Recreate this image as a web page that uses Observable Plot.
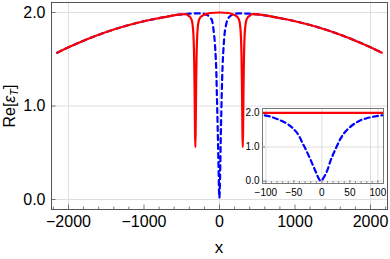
<!DOCTYPE html>
<html><head><meta charset="utf-8">
<script src="https://cdn.jsdelivr.net/npm/d3@7"></script>
<script src="https://cdn.jsdelivr.net/npm/@observablehq/plot@0.6"></script>
<style>
body{margin:0;background:#fff;}
#wrap{position:relative;width:390px;height:259px;font-family:"Liberation Sans",Arial,sans-serif;}
#main{position:absolute;left:0;top:0;}
#inset{position:absolute;left:232px;top:104px;}
</style></head><body><div id="wrap"><div id="main"></div><div id="inset"></div></div>
<script>
// ---- data ----
const redX = [-2150,-2000,-1800,-1600,-1400,-1200,-1000,-800,-600,-500,-450,-410,-380,-360,-350,-342,-336,-331,-327,-324,-320,-316,-313,-309,-304,-298,-290,-280,-260,-230,-190,-120,0,120,178,218,248,268,278,286,292,297,301,304,308,312,315,319,324,330,338,348,368,398,438,500,600,800,1000,1200,1400,1600,1800,2000,2150];
const redY = [1.57,1.628,1.699,1.762,1.818,1.866,1.907,1.940,1.970,1.980,1.982,1.965,1.94,1.89,1.82,1.70,1.52,1.25,0.95,0.72,0.56,0.72,0.95,1.25,1.52,1.70,1.82,1.89,1.94,1.965,1.98,1.995,2.0,1.995,1.98,1.965,1.94,1.89,1.82,1.70,1.52,1.25,0.95,0.72,0.56,0.72,0.95,1.25,1.52,1.70,1.82,1.89,1.94,1.965,1.982,1.980,1.970,1.940,1.907,1.866,1.818,1.762,1.699,1.628,1.57];
const blueX = [-2150,-2000,-1800,-1600,-1400,-1200,-1000,-800,-600,-500,-450,-400,-350,-300,-250,-200,-160,-130,-110,-100,-90,-80,-70,-60,-50,-45,-40,-35,-30,-25,-20,-15,-10,-6,-3,0,3,7,10,15,20,25,30,35,40,50,60,70,80,90,100,110,130,160,200,250,300,350,400,450,500,600,800,1000,1200,1400,1600,1800,2000,2150];
const blueY = [1.57,1.628,1.699,1.762,1.818,1.866,1.907,1.940,1.970,1.980,1.984,1.987,1.989,1.990,1.990,1.986,1.972,1.952,1.932,1.92,1.88,1.82,1.75,1.66,1.52,1.43,1.30,1.13,0.97,0.80,0.62,0.43,0.24,0.09,0.02,0.03,0.10,0.22,0.33,0.58,0.78,0.96,1.14,1.29,1.41,1.58,1.70,1.79,1.84,1.88,1.91,1.93,1.952,1.972,1.986,1.990,1.990,1.989,1.987,1.984,1.980,1.970,1.940,1.907,1.866,1.818,1.762,1.699,1.628,1.57];

const mainXTicks = [-2000,-1000,0,1000,2000];
const mainXMinor = [-2200,-1800,-1600,-1400,-1200,-800,-600,-400,-200,200,400,600,800,1200,1400,1600,1800,2200];
const mainYTicks = [0,1,2];
const mainXGrid = [-2000,0,2000];
const mainYGrid = [0,1,2];
const insetXTicks = [-100,-50,0,50,100];
const insetXMinor = [-90,-80,-70,-60,-40,-30,-20,-10,10,20,30,40,60,70,80,90,110];
const insetYTicks = [0,1,2];
const insetXGrid = [-100,0,100];
const insetYGrid = [0,1,2];

const red = redX.map((x,i)=>({x, y:redY[i]}));
const blue = blueX.map((x,i)=>({x, y:blueY[i]}));

const FONT = '"Liberation Sans", Arial, sans-serif';
const RED = "#ff0000", BLUE = "#0000ff", FRAME = "#555", GRID = "#dedede";

// ---- main plot ----
const W=390,H=259,mL=51,mR=3,mT=2,mB=50;
const pw=W-mL-mR, ph=H-mT-mB;
const main = Plot.plot({
  width:W, height:H, marginLeft:mL, marginRight:mR, marginTop:mT, marginBottom:mB,
  x:{domain:[-2225,2225]}, y:{domain:[-0.107,2.107]},
  style:{fontFamily:FONT, color:"#000", background:"transparent"},
  marks:[
    Plot.ruleX(mainXGrid,{x:d=>d, stroke:GRID, strokeWidth:1}),
    Plot.ruleY(mainYGrid,{y:d=>d, stroke:GRID, strokeWidth:1}),
    Plot.tickX(mainXMinor,{x:d=>d, insetTop:ph-2.5, stroke:FRAME, strokeWidth:0.8}),
    Plot.tickX(mainXTicks,{x:d=>d, insetTop:ph-4.5, stroke:FRAME, strokeWidth:0.8}),
    Plot.tickY(mainYTicks,{y:d=>d, insetRight:pw-4.5, stroke:FRAME, strokeWidth:0.8}),
    Plot.axisX(mainXTicks,{tickSize:0, tickPadding:6, tickFormat:d3.format("d"), fontSize:16, label:null}),
    Plot.axisY(mainYTicks,{tickSize:0, tickPadding:6, tickFormat:d3.format(".1f"), fontSize:16, label:null}),
    Plot.line(blue,{x:"x", y:"y", stroke:BLUE, strokeWidth:2.2, strokeDasharray:"5,4", curve:"monotone-x"}),
    Plot.line(red,{x:"x", y:"y", stroke:RED, strokeWidth:2.2, curve:"monotone-x"}),
    Plot.frame({stroke:FRAME, strokeWidth:1})
  ]
});
document.getElementById("main").appendChild(main);
const ms = d3.select(main);
const yl = ms.append("text")
  .attr("transform","translate(15,106) rotate(-90)")
  .attr("text-anchor","middle").attr("font-size",16).attr("font-family",FONT).attr("fill","#000");
yl.append("tspan").text("Re[");
yl.append("tspan").attr("font-style","italic").text("ε");
yl.append("tspan").attr("font-style","italic").attr("font-size",11).attr("dy",3).text("T");
yl.append("tspan").attr("dy",-3).text("]");
ms.append("text").attr("x",219).attr("y",253).attr("text-anchor","middle")
  .attr("font-size",17).attr("font-family",FONT).attr("fill","#000").text("x");

// ---- inset ----
const iW=155,iH=95,iL=30,iR=4,iT=4,iB=16;
const ipw=iW-iL-iR, iph=iH-iT-iB;
const inset = Plot.plot({
  width:iW, height:iH, marginLeft:iL, marginRight:iR, marginTop:iT, marginBottom:iB,
  x:{domain:[-106,110]}, y:{domain:[-0.067,2.126]},
  style:{fontFamily:FONT, color:"#000", background:"transparent"},
  marks:[
    Plot.ruleX(insetXGrid,{x:d=>d, stroke:GRID, strokeWidth:1}),
    Plot.ruleY(insetYGrid,{y:d=>d, stroke:GRID, strokeWidth:1}),
    Plot.tickX(insetXMinor,{x:d=>d, insetTop:iph-1.8, stroke:FRAME, strokeWidth:0.7}),
    Plot.tickX(insetXTicks,{x:d=>d, insetTop:iph-3, stroke:FRAME, strokeWidth:0.7}),
    Plot.tickY(insetYTicks,{y:d=>d, insetRight:ipw-3, stroke:FRAME, strokeWidth:0.7}),
    Plot.axisX(insetXTicks,{tickSize:0, tickPadding:5, tickFormat:d3.format("d"), fontSize:10, label:null}),
    Plot.axisY(insetYTicks,{tickSize:0, tickPadding:3, tickFormat:d3.format(".1f"), fontSize:10, label:null}),
    Plot.line(blue,{x:"x", y:"y", stroke:BLUE, strokeWidth:2.2, strokeDasharray:"5,3.5", curve:"monotone-x", clip:true}),
    Plot.line(red,{x:"x", y:"y", stroke:RED, strokeWidth:2.2, curve:"monotone-x", clip:true}),
    Plot.frame({stroke:"#777", strokeWidth:1})
  ]
});
document.getElementById("inset").appendChild(inset);
</script></body></html>
